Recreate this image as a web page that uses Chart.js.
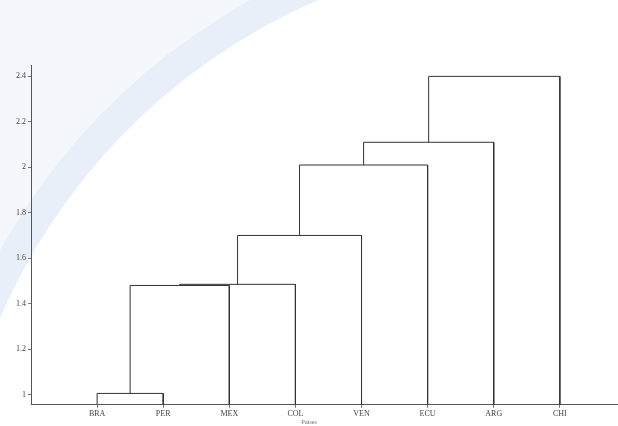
<!DOCTYPE html>
<html>
<head>
<meta charset="utf-8">
<script src="https://cdn.jsdelivr.net/npm/chart.js@4.4.1/dist/chart.umd.min.js"></script>
<style>
    html, body { margin: 0; padding: 0; background: #fff; }
    #wrap { width: 618px; height: 426px; position: relative; }
</style>
</head>
<body>
<div id="wrap"><canvas id="dendro_chart"></canvas></div>
<script>
// leaves in plotted order
var arrLeaves = ['BRA', 'PER', 'MEX', 'COL', 'VEN', 'ECU', 'ARG', 'CHI'];
// merges: ids 0-7 are leaves, 8+ are the clusters made below (in order)
var arrMergeLeft = [0, 8, 9, 10, 11, 12, 13];
var arrMergeRight = [1, 2, 3, 4, 5, 6, 7];
var arrMergeHeight = [1.005, 1.48, 1.485, 1.70, 2.01, 2.11, 2.40];
var arrYTicks = [1, 1.2, 1.4, 1.6, 1.8, 2, 2.2, 2.4];

var fltYMin = 0.955;
var fltYMax = 2.45;

// x position and height of each node
var arrNodeX = arrLeaves.map(function (s, i) { return i + 1; });
var arrNodeH = arrLeaves.map(function () { return fltYMin; });
var arrLinks = [];
arrMergeHeight.forEach(function (h, i) {
    var l = arrMergeLeft[i], r = arrMergeRight[i];
    arrLinks.push({
        label: 'link' + i,
        data: [
            { x: arrNodeX[l], y: arrNodeH[l] },
            { x: arrNodeX[l], y: h },
            { x: arrNodeX[r], y: h },
            { x: arrNodeX[r], y: arrNodeH[r] }
        ],
        borderColor: '#333',
        borderWidth: 1,
        pointRadius: 0,
        fill: false,
        tension: 0
    });
    arrNodeX.push((arrNodeX[l] + arrNodeX[r]) / 2);
    arrNodeH.push(h);
});

// faint seal watermark behind the plot
var watermark = {
    id: 'watermark',
    beforeDraw: function (chart) {
        var c = chart.ctx;
        c.save();
        c.fillStyle = '#f4f7fc';
        c.beginPath();
        c.arc(560, 560, 640, Math.PI, Math.PI * 1.5);
        c.lineTo(0, 0);
        c.closePath();
        c.fill();
        c.fillStyle = '#e8eff8';
        c.beginPath();
        c.arc(560, 560, 640, Math.PI * 1.02, Math.PI * 1.5);
        c.arc(560, 560, 610, Math.PI * 1.5, Math.PI * 1.02, true);
        c.closePath();
        c.fill();
        c.restore();
    }
};

var ctx = document.getElementById('dendro_chart').getContext('2d');
var objChart = new Chart(ctx, {
    type: 'line',
    data: { datasets: arrLinks },
    plugins: [watermark],
    options: {
        animation: false,
        responsive: true,
        maintainAspectRatio: false,
        layout: { padding: { top: 65, right: 0, left: 0, bottom: 0 } },
        plugins: {
            legend: { display: false },
            tooltip: { enabled: false },
            title: {
                display: true,
                position: 'bottom',
                text: 'Países',
                color: '#999',
                padding: 0,
                font: { family: 'Liberation Serif', size: 6 }
            }
        },
        scales: {
            x: {
                type: 'linear',
                min: 0,
                max: 8.88,
                afterBuildTicks: function (axis) {
                    axis.ticks = arrLeaves.map(function (s, i) { return { value: i + 1 }; });
                },
                afterFit: function (axis) { axis.height = 14; },
                border: { color: '#555', width: 1 },
                grid: { display: true, drawOnChartArea: false, tickLength: 3, color: '#777' },
                ticks: {
                    padding: 1,
                    color: '#444',
                    maxRotation: 0,
                    font: { family: 'Liberation Serif', size: 8 },
                    callback: function (value) { return arrLeaves[Math.round(value) - 1]; }
                }
            },
            y: {
                type: 'linear',
                min: fltYMin,
                max: fltYMax,
                afterBuildTicks: function (axis) {
                    axis.ticks = arrYTicks.map(function (v) { return { value: v }; });
                },
                afterFit: function (axis) { axis.width = 31; },
                border: { color: '#555', width: 1 },
                grid: { display: true, drawOnChartArea: false, tickLength: 3, color: '#777' },
                ticks: {
                    padding: 2,
                    color: '#444',
                    font: { family: 'Liberation Serif', size: 8 },
                    callback: function (value) { return String(Math.round(value * 10) / 10); }
                }
            }
        }
    }
});
</script>
</body>
</html>
